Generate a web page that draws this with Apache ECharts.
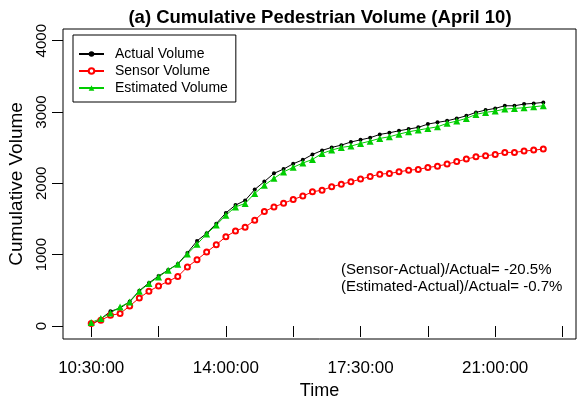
<!DOCTYPE html>
<html>
<head>
<meta charset="utf-8">
<script src="https://cdn.jsdelivr.net/npm/echarts@6/dist/echarts.min.js"></script>
<style>
  html, body { margin: 0; padding: 0; background: #fff; }
  #chart { width: 577px; height: 399px; }
</style>
</head>
<body>
<div id="chart"></div>
<script>
// time stamps, every 15 min
const times = [
  "10:30:00", "10:45:00", "11:00:00", "11:15:00", "11:30:00", "11:45:00",
  "12:00:00", "12:15:00", "12:30:00", "12:45:00", "13:00:00", "13:15:00",
  "13:30:00", "13:45:00", "14:00:00", "14:15:00", "14:30:00", "14:45:00",
  "15:00:00", "15:15:00", "15:30:00", "15:45:00", "16:00:00", "16:15:00",
  "16:30:00", "16:45:00", "17:00:00", "17:15:00", "17:30:00", "17:45:00",
  "18:00:00", "18:15:00", "18:30:00", "18:45:00", "19:00:00", "19:15:00",
  "19:30:00", "19:45:00", "20:00:00", "20:15:00", "20:30:00", "20:45:00",
  "21:00:00", "21:15:00", "21:30:00", "21:45:00", "22:00:00", "22:15:00"
];

const actualVolume = [
  20, 100, 206, 250, 345, 495, 604, 700, 785, 870, 1025, 1193,
  1300, 1435, 1586, 1695, 1760, 1914, 2025, 2140, 2200, 2275, 2330, 2405,
  2462, 2504, 2536, 2580, 2610, 2640, 2686, 2709, 2737, 2761, 2785, 2831,
  2855, 2877, 2910, 2947, 2995, 3027, 3051, 3088, 3088, 3112, 3121, 3135
];

const sensorVolume = [
  34, 80, 150, 174, 281, 393, 487, 561, 627, 693, 828, 930,
  1037, 1140, 1252, 1333, 1385, 1484, 1605, 1670, 1720, 1774, 1822, 1881,
  1905, 1951, 1989, 2021, 2060, 2095, 2129, 2139, 2161, 2185, 2195, 2223,
  2241, 2270, 2305, 2340, 2372, 2386, 2405, 2434, 2434, 2452, 2466, 2480
];

const estimatedVolume = [
  50, 104, 183, 267, 337, 487, 595, 688, 782, 866, 1010, 1147,
  1290, 1415, 1554, 1670, 1718, 1858, 1975, 2070, 2160, 2225, 2285, 2335,
  2419, 2466, 2504, 2522, 2560, 2592, 2630, 2653, 2690, 2723, 2747, 2770,
  2793, 2841, 2873, 2911, 2967, 2995, 3013, 3041, 3051, 3060, 3074, 3088
];

const xTicks = ["10:30:00", "12:15:00", "14:00:00", "15:45:00", "17:30:00", "19:15:00", "21:00:00", "22:45:00"];
const xLabels = ["10:30:00", "14:00:00", "17:30:00", "21:00:00"];
const yTicks = [0, 1000, 2000, 3000, 4000];

const noteLines = ["(Sensor-Actual)/Actual= -20.5%", "(Estimated-Actual)/Actual= -0.7%"];

const toMin = (s) => {
  let p = s.split(":");
  return +p[0] * 60 + +p[1];
};
const fmtMin = (m) => {
  let h = Math.floor(m / 60), mm = m % 60;
  return h + ":" + (mm < 10 ? "0" : "") + mm + ":00";
};
const pairs = (arr) => arr.map((v, i) => [toMin(times[i]), v]);

const FONT = "Liberation Sans";
const chart = echarts.init(document.getElementById("chart"), null, { renderer: "canvas" });

chart.setOption({
  animation: false,
  backgroundColor: "#fff",
  textStyle: { fontFamily: FONT, color: "#000" },
  title: {
    text: "(a) Cumulative Pedestrian Volume (April 10)",
    left: 315,
    textAlign: "center",
    top: 3,
    textStyle: { fontFamily: FONT, fontSize: 18.5, fontWeight: "bold", color: "#000" },
  },
  grid: {
    left: 63, right: 1, top: 29, bottom: 60,
    outerBoundsMode: "none",
    containLabel: false,
    show: true, borderColor: "#000", borderWidth: 1, backgroundColor: "transparent",
  },
  legend: {
    orient: "vertical",
    left: 73, top: 35,
    borderColor: "#000", borderWidth: 1, borderRadius: 0,
    padding: [12, 8, 7, 5],
    itemGap: 3,
    itemWidth: 25, itemHeight: 7,
    textStyle: { fontFamily: FONT, fontSize: 14, color: "#000", padding: [0, 0, 0, 6] },
    data: ["Actual Volume", "Sensor Volume", "Estimated Volume"],
  },
  xAxis: {
    type: "value",
    min: 586, max: 1386,
    name: "Time",
    nameLocation: "middle",
    nameGap: 39,
    nameTextStyle: { fontFamily: FONT, fontSize: 18, color: "#000" },
    axisLine: { show: false },
    splitLine: { show: false },
    axisTick: { show: true, length: 11, lineStyle: { color: "#000" }, customValues: xTicks.map(toMin) },
    axisLabel: {
      fontFamily: FONT, fontSize: 17, color: "#000", margin: 21,
      customValues: xLabels.map(toMin),
      formatter: (v) => fmtMin(v),
    },
  },
  yAxis: {
    type: "value",
    min: -182, max: 4164,
    name: "Cumulative Volume",
    nameLocation: "middle",
    nameGap: 37,
    nameTextStyle: { fontFamily: FONT, fontSize: 19, color: "#000" },
    axisLine: { show: false },
    splitLine: { show: false },
    axisTick: { show: true, length: 11, lineStyle: { color: "#000" }, customValues: yTicks },
    axisLabel: {
      fontFamily: FONT, fontSize: 15, color: "#000", margin: 14, rotate: 90,
      customValues: yTicks,
      formatter: (v) => String(v),
    },
  },
  graphic: noteLines.map((t, i) => ({
    type: "text",
    left: 341,
    top: 262 + i * 17,
    style: { text: t, font: "15px '" + FONT + "'", fill: "#000" },
  })),
  series: [
    {
      name: "Actual Volume", type: "line",
      data: pairs(actualVolume),
      symbol: "circle", symbolSize: 4,
      itemStyle: { color: "#000" },
      lineStyle: { width: 1, color: "#000" },
    },
    {
      name: "Sensor Volume", type: "line",
      data: pairs(sensorVolume),
      symbol: "emptyCircle", symbolSize: 5,
      itemStyle: { color: "#ff0000", borderWidth: 1 },
      lineStyle: { width: 1, color: "#ff0000" },
    },
    {
      name: "Estimated Volume", type: "line",
      data: pairs(estimatedVolume),
      symbol: "triangle", symbolSize: 7,
      itemStyle: { color: "#00cd00" },
      lineStyle: { width: 1, color: "#00cd00" },
    },
  ],
});
</script>
</body>
</html>
